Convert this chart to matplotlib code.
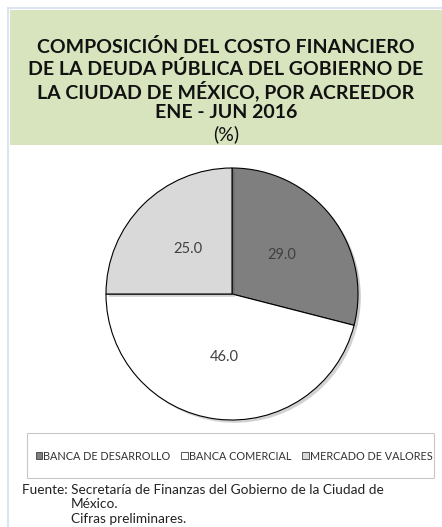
import matplotlib.pyplot as plt
from matplotlib.patches import Rectangle
import matplotlib.patheffects as pe

# data
categories = ["BANCA DE DESARROLLO", "BANCA COMERCIAL", "MERCADO DE VALORES"]
values = [29.0, 46.0, 25.0]
colors = ["#7f7f7f", "#ffffff", "#d9d9d9"]

title_lines = [
    "COMPOSICIÓN DEL COSTO FINANCIERO",
    "DE LA DEUDA PÚBLICA DEL GOBIERNO DE",
    "LA CIUDAD DE MÉXICO, POR ACREEDOR",
    "ENE - JUN 2016",
]
footer = [
    "Fuente: Secretaría de Finanzas del Gobierno de la Ciudad de",
    "México.",
    "Cifras preliminares.",
]

W, H = 442, 527
fig = plt.figure(figsize=(W / 100, H / 100), dpi=100)
fig.patch.set_facecolor("white")

def fx(px):
    return px / W

def fy(py):
    return 1 - py / H

# outer frame lines
fig.add_artist(plt.Line2D([fx(8), fx(8)], [fy(8), 0], color="#dbe5f1", lw=1.5))
fig.add_artist(plt.Line2D([fx(8), 1], [fy(8), fy(8)], color="#dbe5f1", lw=1.5))

# title box
fig.add_artist(Rectangle((fx(10), fy(145)), 1 - fx(10), (145 - 10) / H,
                         facecolor="#d7e4bd", edgecolor="none", transform=fig.transFigure))
for i, line in enumerate(title_lines):
    fig.text(fx(226), fy(47 + i * 22), line, ha="center", va="center",
             fontsize=14, fontweight="bold", family="Lato", color="#111111")
fig.text(fx(226), fy(134), "(%)", ha="center", va="center",
         fontsize=14, family="Lato", color="#111111")

# pie
r = 126
cx, cy = 232, 294
ax = fig.add_axes([fx(cx - r), fy(cy + r), 2 * r / W, 2 * r / H])
wedges, texts = ax.pie(values, colors=colors, startangle=90, counterclock=False,
                       labels=[f"{v:.1f}" for v in values], labeldistance=0.5,
                       wedgeprops=dict(edgecolor="black", linewidth=0.8),
                       textprops=dict(fontsize=10.5, color="#404040", family="Lato",
                                      ha="center", va="center"))
for w in wedges:
    w.set_path_effects([pe.SimplePatchShadow(offset=(2, -2), alpha=0.25), pe.Normal()])
ax.set_xlim(-1, 1)
ax.set_ylim(-1, 1)
ax.set_aspect("auto")

# legend box
fig.add_artist(Rectangle((fx(27), fy(478)), fx(434 - 27), (478 - 433) / H,
                         facecolor="white", edgecolor="#c8c8c8", lw=0.8,
                         transform=fig.transFigure))
leg = fig.legend(wedges, categories, loc="center", bbox_to_anchor=(fx(234), fy(456)),
                 ncol=3, frameon=False, handlelength=0.6, handleheight=0.6,
                 handletextpad=0.1, columnspacing=1.0,
                 prop=dict(family="Lato", size=7.8))
for h in leg.legend_handles:
    h.set_edgecolor("#404040")
    h.set_linewidth(0.6)
    h.set_path_effects([])
for t in leg.get_texts():
    t.set_color("#333333")

# footer
fig.text(fx(22), fy(490), footer[0], ha="left", va="center", fontsize=9.8,
         family="Lato", color="#222222")
fig.text(fx(71), fy(504), footer[1], ha="left", va="center", fontsize=9.8,
         family="Lato", color="#222222")
fig.text(fx(71), fy(519), footer[2], ha="left", va="center", fontsize=9.8,
         family="Lato", color="#222222")

fig.savefig("out.png", dpi=100)
